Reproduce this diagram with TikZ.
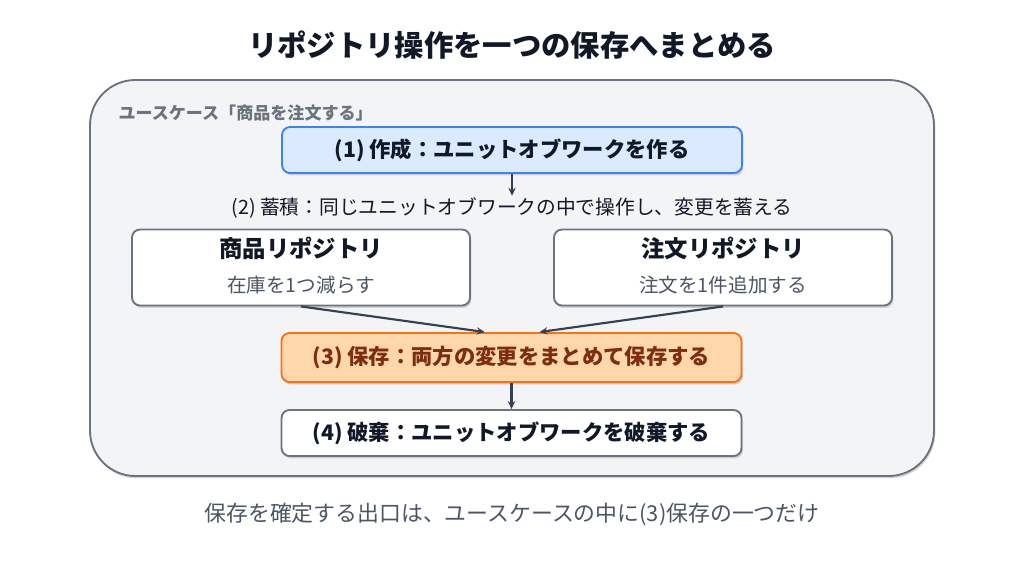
\documentclass[tikz,border=0pt]{standalone}
\usepackage{fontspec}
\setmainfont{Noto Sans CJK JP}
\usetikzlibrary{arrows.meta,shadows}

\definecolor{ink}{RGB}{17,24,39}
\definecolor{slate}{RGB}{51,65,85}
\definecolor{muted}{RGB}{75,85,99}
\definecolor{frame}{RGB}{107,114,128}
\definecolor{panel}{RGB}{243,244,246}
\definecolor{bluefill}{RGB}{219,234,254}
\definecolor{blueline}{RGB}{59,130,246}
\definecolor{orangefill}{RGB}{254,215,170}
\definecolor{orangeline}{RGB}{249,115,22}
\definecolor{brown}{RGB}{124,45,18}

\tikzset{every picture/.style={line width=0.75pt}}

\begin{document}
\begin{tikzpicture}[x=0.75pt,y=0.75pt,yscale=-1,xscale=1,
	softshadow/.style={drop shadow={shadow xshift=1pt,shadow yshift=-1.8pt,opacity=0.3}},
	stepbox/.style={draw=frame,line width=1.4pt,fill=white,rounded corners=6pt,softshadow,minimum width=345pt,minimum height=34.5pt,inner sep=0pt},
	repobox/.style={draw=frame,line width=1.4pt,fill=white,rounded corners=6pt,softshadow,minimum width=253.5pt,minimum height=57pt,inner sep=0pt},
	flow/.style={draw=slate,line width=1.6pt,-{Stealth[length=6pt,width=5.5pt]}},
	bigfont/.style={font=\fontsize{16pt}{19pt}\selectfont\bfseries},
	]
	%set diagram size to 1024 x 576
	\useasboundingbox (0,0) rectangle (1024,576);
	\fill [white] (0,0) rectangle (1024,576);

	\draw (512,45) node [text=ink] (title) {\fontsize{22pt}{26pt}\selectfont\bfseries リポジトリ操作を一つの保存へまとめる};

	\draw (512,278) node [draw=frame,line width=1.4pt,fill=panel,rounded corners=34pt,softshadow,minimum width=633pt,minimum height=297pt] (usecase) {};
	\draw (118,113) node [anchor=west,text=frame,inner sep=0pt] (label) {\fontsize{12.8pt}{15pt}\selectfont\bfseries ユースケース「商品を注文する」};

	\draw (512,150) node [stepbox,draw=blueline,fill=bluefill,bigfont,text=ink] (create) {(1) 作成：ユニットオブワークを作る};
	\draw (512,208) node [text=ink,inner sep=1pt] (accum) {\fontsize{14.8pt}{17pt}\selectfont (2) 蓄積：同じユニットオブワークの中で操作し、変更を蓄える};

	\draw (301,267.5) node [repobox] (prod) {};
	\draw (301,248) node [text=ink] (prodname) {\fontsize{17.5pt}{20pt}\selectfont\bfseries 商品リポジトリ};
	\draw (301,285) node [text=muted] (prodop) {\fontsize{14.7pt}{17pt}\selectfont 在庫を1つ減らす};

	\draw (723,267.5) node [repobox] (order) {};
	\draw (723,248) node [text=ink] (ordername) {\fontsize{17.5pt}{20pt}\selectfont\bfseries 注文リポジトリ};
	\draw (723,285) node [text=muted] (orderop) {\fontsize{14.7pt}{17pt}\selectfont 注文を1件追加する};

	\draw (511.5,357.5) node [stepbox,draw=orangeline,fill=orangefill,minimum height=36.75pt,bigfont,text=brown] (save) {(3) 保存：両方の変更をまとめて保存する};
	\draw (511.5,433) node [stepbox,bigfont,text=ink] (dispose) {(4) 破棄：ユニットオブワークを破棄する};

	\draw (512,514) node [text=muted] (note) {\fontsize{16.4pt}{19pt}\selectfont 保存を確定する出口は、ユースケースの中に(3)保存の一つだけ};

	\draw [flow] (create) -- (accum.north);
	\draw [flow] (prod.south) -- ([xshift=-20pt]save.north);
	\draw [flow] (order.south) -- ([xshift=21pt]save.north);
	\draw [flow] (save) -- (dispose);

\end{tikzpicture}
\end{document}
